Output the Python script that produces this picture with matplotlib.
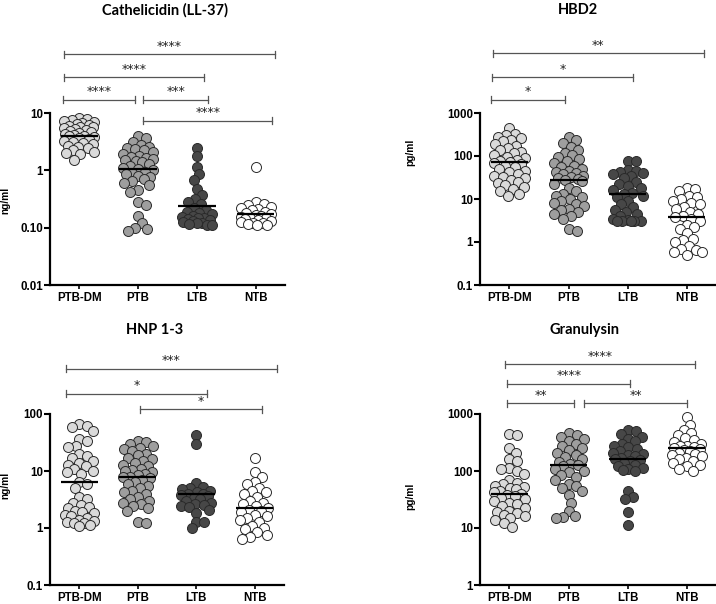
import numpy as np
import matplotlib
matplotlib.use("Agg")
import matplotlib.pyplot as plt
import matplotlib.transforms as mtransforms

# ---------------- data ----------------
groups = ["PTB-DM", "PTB", "LTB", "NTB"]

titles = ["Cathelicidin (LL-37)", "HBD2", "HNP 1-3", "Granulysin"]
units = ["ng/ml", "pg/ml", "ng/ml", "pg/ml"]

# Cathelicidin (LL-37), ng/ml
ll37_ptbdm = [8.2, 7.8, 7.5, 7.2, 7.0, 6.8, 6.5, 6.2, 6.0, 5.8, 5.6, 5.4, 5.2, 5.0, 4.8, 4.6,
              4.5, 4.3, 4.1, 4.0, 3.9, 3.8, 3.6, 3.5, 3.3, 3.1, 3.0, 2.9, 2.7, 2.6, 2.5, 2.3,
              2.1, 2.0, 1.9, 1.5]
ll37_ptb = [4.0, 3.6, 3.1, 2.8, 2.6, 2.5, 2.4, 2.3, 2.1, 1.9, 1.8, 1.7, 1.65, 1.6, 1.5, 1.45,
            1.4, 1.3, 1.2, 1.1, 1.05, 1.0, 0.95, 0.9, 0.85, 0.8, 0.75, 0.7, 0.65, 0.6, 0.55,
            0.45, 0.42, 0.28, 0.25, 0.16, 0.12, 0.1, 0.096, 0.089]
ll37_ltb = [2.5, 1.75, 1.15, 0.85, 0.68, 0.47, 0.37, 0.32, 0.28, 0.26, 0.22, 0.2, 0.19, 0.18,
            0.17, 0.16, 0.155, 0.15, 0.145, 0.14, 0.135, 0.13, 0.125, 0.12, 0.12, 0.115,
            0.11, 0.11]
ll37_ntb = [1.15, 0.28, 0.26, 0.25, 0.23, 0.22, 0.21, 0.2, 0.19, 0.18, 0.17, 0.165, 0.16,
            0.155, 0.15, 0.145, 0.14, 0.135, 0.13, 0.125, 0.12, 0.12, 0.115, 0.11, 0.11]
ll37_center = [3.9, 1.04, 0.24, 0.17]

# HBD2, pg/ml
hbd2_ptbdm = [460, 330, 300, 280, 260, 240, 220, 190, 170, 150, 135, 125, 115, 105, 95, 88,
              80, 75, 72, 70, 65, 60, 55, 50, 46, 42, 38, 35, 32, 30, 27, 25, 23, 21, 19, 17,
              15, 13, 12]
hbd2_ptb = [280, 240, 200, 160, 140, 120, 105, 95, 85, 75, 68, 60, 55, 50, 45, 42, 40, 38, 35,
            33, 31, 29, 28, 26, 22, 18, 15, 13, 12, 11, 10, 9, 8, 7.5, 7, 6, 5.5, 5, 4.5, 4,
            3.5, 2.0, 1.8]
hbd2_ltb = [78, 76, 48, 45, 42, 40, 38, 35, 30, 25, 22, 20, 18, 16, 14, 13, 12, 11, 9, 7.5,
            6.5, 5.5, 5, 4.5, 4, 3.5, 3.2, 3.1, 3.0, 3.0, 3.0, 3.0]
hbd2_ntb = [18, 17, 15, 12, 11, 10, 9, 8, 7.5, 6.5, 6, 5, 4.5, 4, 3.8, 3.5, 3, 2.5, 2.2, 2,
            1.6, 1.2, 1.1, 1.0, 0.8, 0.7, 0.65, 0.6, 0.6, 0.5]
hbd2_center = [71, 28, 13, 3.75]

# HNP 1-3, ng/ml
hnp_ptbdm = [68, 62, 60, 50, 36, 33, 27, 26, 20, 18, 17, 15, 14, 13, 12, 11, 10, 9.5, 9, 6.5,
             6, 5, 3.5, 3.2, 2.8, 2.5, 2.3, 2.2, 2.0, 1.9, 1.8, 1.7, 1.6, 1.5, 1.4, 1.35, 1.3,
             1.2, 1.2, 1.15, 1.1]
hnp_ptb = [34, 32, 30, 27, 25, 24, 22, 20, 19, 17, 16, 15, 14, 13, 12, 11, 10.5, 10, 9.5, 9,
           8.5, 8, 7.7, 7.5, 7, 6.5, 6, 5.5, 5, 4.5, 4.2, 4, 3.5, 3.2, 3, 2.8, 2.6, 2.4, 2.2,
           2.0, 1.25, 1.22]
hnp_ltb = [42, 30, 6.2, 5.2, 5.0, 4.8, 4.5, 4.2, 4.0, 3.9, 3.8, 3.6, 3.4, 3.2, 3.0, 2.8, 2.6,
           2.5, 2.4, 2.3, 2.1, 1.8, 1.3, 1.25, 1.0]
hnp_ntb = [16.6, 9.5, 8, 6.5, 6, 5, 4.5, 4.2, 4, 3.5, 3, 2.8, 2.6, 2.4, 2.2, 2.1, 2.0, 1.9,
           1.7, 1.6, 1.5, 1.4, 1.3, 1.1, 1.0, 0.95, 0.85, 0.75, 0.7, 0.65]
hnp_center = [6.3, 7.7, 3.9, 2.2]

# Granulysin, pg/ml
gran_ptbdm = [440, 430, 250, 210, 160, 150, 115, 110, 100, 90, 70, 62, 58, 55, 52, 50, 48, 45,
              42, 40, 38, 36, 34, 32, 30, 28, 26, 24, 22, 20, 19, 18, 17, 16, 15, 14, 12, 10.5]
gran_ptb = [460, 430, 400, 370, 330, 300, 270, 250, 230, 210, 190, 175, 160, 145, 135, 125,
            120, 110, 100, 95, 85, 80, 70, 60, 55, 50, 45, 38, 28, 20, 16, 15.5, 15]
gran_ltb = [525, 500, 450, 400, 370, 330, 300, 280, 260, 240, 225, 210, 200, 190, 180, 170,
            160, 155, 150, 140, 130, 120, 115, 110, 105, 100, 45, 35, 32, 19, 11.5]
gran_ntb = [870, 650, 520, 470, 420, 380, 350, 320, 300, 280, 270, 260, 250, 240, 230, 220,
            210, 200, 190, 180, 170, 160, 150, 140, 130, 120, 110, 100]
gran_center = [40, 125, 160, 250]

# y tick values / labels
ll37_ticks = [0.01, 0.1, 1, 10]
ll37_ticklabels = ["0.01", "0.10", "1", "10"]
hbd2_ticks = [0.1, 1, 10, 100, 1000]
hbd2_ticklabels = ["0.1", "1", "10", "100", "1000"]
hnp_ticks = [0.1, 1, 10, 100]
hnp_ticklabels = ["0.1", "1", "10", "100"]
gran_ticks = [1, 10, 100, 1000]
gran_ticklabels = ["1", "10", "100", "1000"]

# significance comparisons: (group a, group b, label)
ll37_sig = [(0, 3, "****"), (0, 2, "****"), (0, 1, "****"), (1, 2, "***"), (1, 3, "****")]
hbd2_sig = [(0, 3, "**"), (0, 2, "*"), (0, 1, "*")]
hnp_sig = [(0, 3, "***"), (0, 2, "*"), (1, 3, "*")]
gran_sig = [(0, 3, "****"), (0, 2, "****"), (0, 1, "**"), (1, 3, "**")]

# ---------------- layout / style ----------------
W, H = 716, 604
colors = ["#dadada", "#9e9e9e", "#474747", "#ffffff"]
edge = "#2a2a2a"
diam_px = 10.0
max_off_px = 15.0

# axes rectangles in pixels: left, top(px of max tick), right, bottom(px)
rects_px = [(50, 113, 285, 285), (480, 113, 716, 285), (50, 414, 284, 585), (480, 414, 716, 585)]
title_px = [(165, 10), (578, 10), (155, 330), (585, 330)]
ylabel_pos = [(-0.17, 0.494), (-0.275, 0.773), (-0.17, 0.585), (-0.275, 0.52)]
# bracket layout: (x start offset from group a, x end offset from group b, y in axes fraction)
ll37_br = [(-0.26, 0.33, 1.343), (-0.27, 0.12, 1.208), (-0.28, -0.05, 1.076),
           (0.09, 0.19, 1.076), (0.09, 0.28, 0.955)]
hbd2_br = [(-0.28, 0.29, 1.347), (-0.30, 0.09, 1.208), (-0.31, -0.06, 1.076)]
hnp_br = [(-0.23, 0.38, 1.265), (-0.23, 0.19, 1.119), (0.03, 0.12, 1.027)]
gran_br = [(-0.08, 0.15, 1.29), (-0.04, 0.05, 1.177), (-0.04, 0.09, 1.064), (0.26, 0.01, 1.064)]

panels = [
    ([ll37_ptbdm, ll37_ptb, ll37_ltb, ll37_ntb], ll37_center, ll37_ticks, ll37_ticklabels, ll37_sig, ll37_br),
    ([hbd2_ptbdm, hbd2_ptb, hbd2_ltb, hbd2_ntb], hbd2_center, hbd2_ticks, hbd2_ticklabels, hbd2_sig, hbd2_br),
    ([hnp_ptbdm, hnp_ptb, hnp_ltb, hnp_ntb], hnp_center, hnp_ticks, hnp_ticklabels, hnp_sig, hnp_br),
    ([gran_ptbdm, gran_ptb, gran_ltb, gran_ntb], gran_center, gran_ticks, gran_ticklabels, gran_sig, gran_br),
]

fig = plt.figure(figsize=(W / 100, H / 100), dpi=100)
fig.patch.set_facecolor("white")


def swarm_x(ax, xc, vals, d, maxoff, overlap=0.78):
    pts = ax.transData.transform(np.column_stack([np.full(len(vals), xc), vals]))
    x0 = pts[0, 0]
    ys = pts[:, 1]
    order = np.argsort(-ys)
    cand = [0.0]
    k = 1
    while k * 0.5 <= maxoff:
        cand += [k * 0.5, -k * 0.5]
        k += 1
    D = d * overlap
    placed = []
    offs = np.zeros(len(vals))
    for i in order:
        best_c, best_d = 0.0, -1.0
        for c in cand:
            if placed:
                md = min(np.hypot(c - px, ys[i] - py) for px, py in placed)
            else:
                md = np.inf
            if md >= D:
                best_c = c
                break
            if md > best_d + 0.3:
                best_c, best_d = c, md
        placed.append((best_c, ys[i]))
        offs[i] = best_c
    back = ax.transData.inverted().transform(np.column_stack([x0 + offs, ys]))
    return back[:, 0]


ms_pt = diam_px * 72 / 100

for p, (series, centers, yt, ytl, sig, br) in enumerate(panels):
    l, t, r, b = rects_px[p]
    ax = fig.add_axes([l / W, 1 - b / H, (r - l) / W, (b - t) / H])
    ax.set_yscale("log")
    ax.set_ylim(yt[0], yt[-1])
    ax.set_xlim(0, 4)
    ax.patch.set_alpha(0)
    for s in ["top", "right"]:
        ax.spines[s].set_visible(False)
    for s in ["left", "bottom"]:
        ax.spines[s].set_linewidth(1.6)
        ax.spines[s].set_color("black")
    ax.yaxis.set_major_locator(matplotlib.ticker.FixedLocator(yt))
    ax.yaxis.set_major_formatter(matplotlib.ticker.FixedFormatter(ytl))
    ax.yaxis.set_minor_locator(matplotlib.ticker.NullLocator())
    ax.set_xticks([0.5, 1.5, 2.5, 3.5])
    ax.set_xticklabels(groups)
    ax.tick_params(axis="y", direction="out", length=4, width=1.5, pad=1)
    ax.tick_params(axis="x", direction="out", length=3, width=1.2, pad=2)
    for lab in ax.get_xticklabels() + ax.get_yticklabels():
        lab.set_fontfamily("Liberation Sans")
        lab.set_fontweight("bold")
        lab.set_fontsize(8.3)
    ax.set_ylabel(units[p], fontfamily="Liberation Sans", fontweight="bold", fontsize=7.3)
    ax.yaxis.set_label_coords(*ylabel_pos[p])

    for g, vals in enumerate(series):
        xc = 0.5 + g
        xs = swarm_x(ax, xc, vals, diam_px, max_off_px)
        ax.scatter(xs, vals, s=ms_pt ** 2, facecolor=colors[g], edgecolor=edge,
                   linewidth=0.7, zorder=3, clip_on=False)
        ax.plot([xc - 0.32, xc + 0.32], [centers[g], centers[g]], color="black",
                lw=1.6, zorder=4, solid_capstyle="butt")

    trans = mtransforms.blended_transform_factory(ax.transData, ax.transAxes)
    cap = 3.5 / (b - t)
    for (ga, gb, lab), (dx0, dx1, yb) in zip(sig, br):
        xa = 0.5 + ga + dx0
        xb = 0.5 + gb + dx1
        ax.plot([xa, xb], [yb, yb], color="#555555", lw=0.9, transform=trans, clip_on=False, zorder=5)
        for xx in (xa, xb):
            ax.plot([xx, xx], [yb - cap, yb + cap], color="#555555", lw=0.9,
                    transform=trans, clip_on=False, zorder=5)
        ax.text((xa + xb) / 2, yb + 1.5 / (b - t), lab, transform=trans, ha="center", va="bottom",
                fontsize=9, color="#222222", fontfamily="DejaVu Sans")

    tx, ty = title_px[p]
    fig.text(tx / W, 1 - ty / H, titles[p], ha="center", va="center", fontfamily="Lato",
             fontweight="bold", fontsize=10.5)

fig.savefig("out.png", dpi=100, facecolor="white")
